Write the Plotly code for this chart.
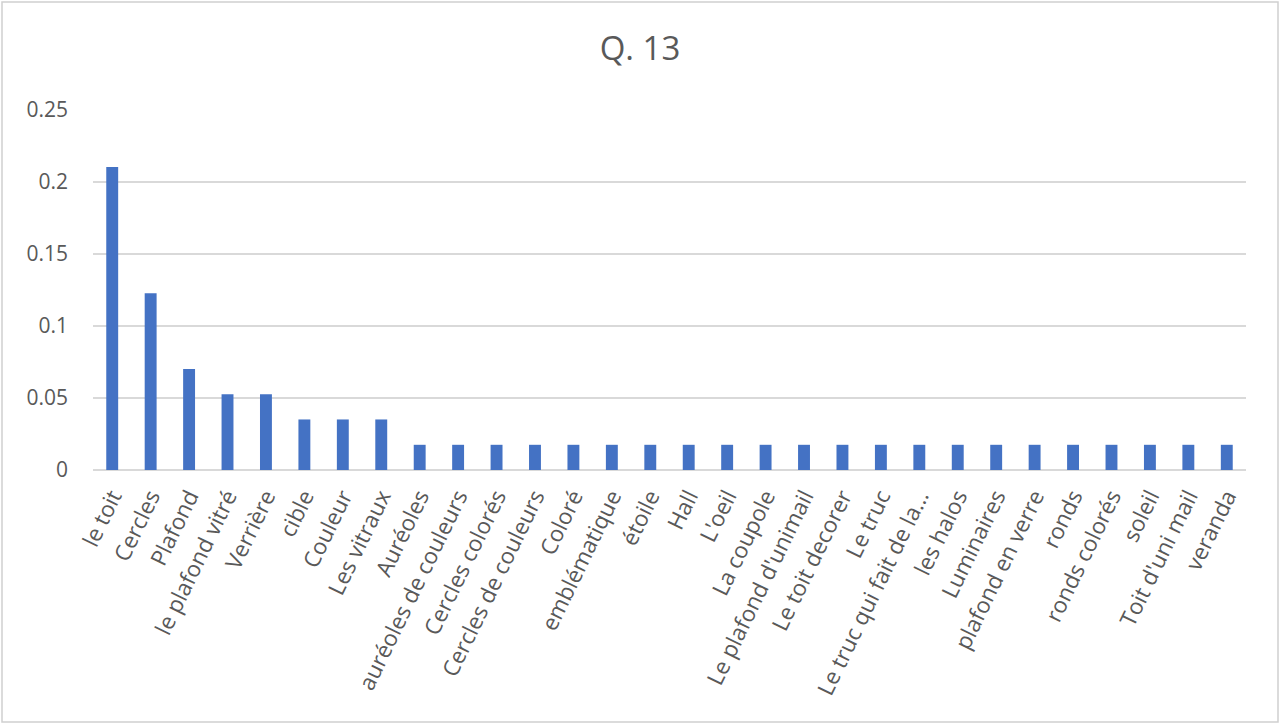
import plotly.graph_objects as go

categories = [
    "le toit", "Cercles", "Plafond", "le plafond vitré", "Verrière", "cible",
    "Couleur", "Les vitraux", "Auréoles", "auréoles de couleurs", "Cercles colorés",
    "Cercles de couleurs", "Coloré", "emblématique", "étoile", "Hall", "L'oeil",
    "La coupole", "Le plafond d'unimail", "Le toit decorer", "Le truc",
    "Le truc qui fait de la...", "les halos", "Luminaires", "plafond en verre",
    "ronds", "ronds colorés", "soleil", "Toit d'uni mail", "veranda",
]
values = [
    0.2105, 0.1228, 0.0702, 0.0526, 0.0526, 0.0351, 0.0351, 0.0351,
    0.0175, 0.0175, 0.0175, 0.0175, 0.0175, 0.0175, 0.0175, 0.0175,
    0.0175, 0.0175, 0.0175, 0.0175, 0.0175, 0.0175, 0.0175, 0.0175,
    0.0175, 0.0175, 0.0175, 0.0175, 0.0175, 0.0175,
]
title_text = "Q. 13"

W, H = 1280, 724
ml, mr, mt, mb = 93, 34, 110, 254
pw, ph = W - ml - mr, H - mt - mb

fig = go.Figure(go.Bar(x=categories, y=values, marker_color="#4472C4",
                       marker_line_width=0))

fig.update_layout(
    width=W, height=H,
    margin=dict(l=ml, r=mr, t=mt, b=mb),
    paper_bgcolor="white", plot_bgcolor="white",
    bargap=0.69,
    font=dict(family="Open Sans, sans-serif", color="#595959", size=20),
    title=dict(text=title_text, x=0.5, xanchor="center", y=1 - 48 / H,
               yanchor="middle", font=dict(size=33, color="#595959")),
    showlegend=False,
    xaxis=dict(tickangle=-64, showgrid=False, showline=False, ticks="",
               ticklabelstandoff=8,
               tickfont=dict(size=22.5, color="#595959")),
    yaxis=dict(range=[0, 0.25], tick0=0, dtick=0.05, showgrid=True,
               gridcolor="#d9d9d9", gridwidth=1.5, zeroline=True,
               zerolinecolor="#d9d9d9", zerolinewidth=1.5, showline=False,
               ticks="", ticklabelstandoff=24,
               tickfont=dict(size=21, color="#595959")),
    shapes=[dict(type="rect", xref="paper", yref="paper",
                 x0=(2 - ml) / pw, x1=(W - 2 - ml) / pw,
                 y0=-(H - 2 - (H - mb)) / ph, y1=(H - mb - 2) / ph,
                 line=dict(color="#d0d0d0", width=1.5), layer="below")],
)

fig.write_html("out.html", config={"displayModeBar": False},
               post_script="document.body.style.margin='0';document.body.style.overflow='hidden';")
